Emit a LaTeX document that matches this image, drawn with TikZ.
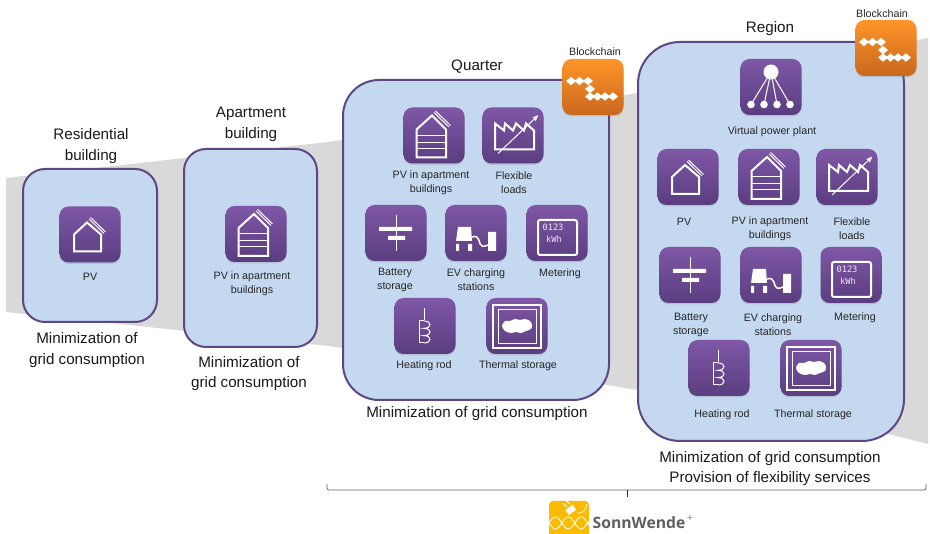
\documentclass[tikz,border=0pt]{standalone}
\usepackage{fontspec}
\setmainfont{Liberation Sans}
\newfontfamily\logofont{Open Sans}
\newfontfamily\meterfont{DejaVu Sans Mono}
\usepackage{tikz}
\usetikzlibrary{arrows,shadows}
\definecolor{wedgegray}{HTML}{D9D9D9}
\definecolor{panelblue}{HTML}{C4D8EF}
\definecolor{panelline}{HTML}{5E4785}
\definecolor{icontop}{HTML}{7F57A6}
\definecolor{iconbottom}{HTML}{5A3D80}
\definecolor{chaintop}{HTML}{FF9429}
\definecolor{chainbottom}{HTML}{C9681E}
\definecolor{logoyellow}{HTML}{FDBB00}
\definecolor{logogray}{HTML}{5F5F5F}
\begin{document}
\begin{tikzpicture}[
      x=1pt,y=-1pt,
      panel/.style={draw=panelline,line width=2pt,fill=panelblue},
      iconbox/.style={minimum width=61pt,minimum height=56pt,inner sep=0pt,rounded corners=9pt,top color=icontop,bottom color=iconbottom,drop shadow={opacity=0.25,shadow xshift=0pt,shadow yshift=-1.5pt}},
      chainbox/.style={minimum width=61pt,minimum height=56pt,inner sep=0pt,rounded corners=9pt,top color=chaintop,bottom color=chainbottom,drop shadow={opacity=0.25,shadow xshift=0pt,shadow yshift=-1.5pt}},
      glyph/.style={draw=white,line width=2pt},
      thinglyph/.style={draw=white,line width=1pt},
      caption/.style={inner sep=0pt,yshift=-1.5pt,align=center,text=black!85,font=\fontsize{10.7}{14}\selectfont},
      title/.style={inner sep=0pt,yshift=-1.5pt,align=center,text=black!90,font=\fontsize{15.2}{20.5}\selectfont},
      brace/.style={draw=black!60,line width=0.8pt},
      pvhouse/.pic={
        \node[iconbox] (-box) {};
        \draw[glyph,line join=miter] (-16,17) -- (-16,0) -- (-3,-12) -- (11,0) -- (11,17) -- cycle;
        \draw[thinglyph] (-1,-15.5) -- (14,-1) (0.5,-17) -- (15.5,-2.5);
      },
      pvapt/.pic={
        \node[iconbox] (-box) {};
        \draw[glyph] (-17.5,22) -- (-17.5,-6) -- (-2,-20) -- (12,-6) -- (12,22) -- cycle;
        \draw[thinglyph] (-17.5,0) -- (12,0) (-17.5,7) -- (12,7) (-17.5,13) -- (12,13);
        \draw[thinglyph] (0,-23) -- (15,-8.5) (1.5,-24.5) -- (16.5,-10);
      },
      flexload/.pic={
        \node[iconbox] (-box) {};
        \draw[glyph] (-18,-12) -- (-9,-5) -- (-8,-12) -- (0,-5) -- (3,-12) -- (11,-5) -- (13,-12) -- (21,-5) -- (21,14) -- (-18,14) -- cycle;
        \draw[thinglyph,->,>=stealth'] (-15,18) -- (25,-20);
      },
      battery/.pic={
        \node[iconbox] (-box) {};
        \draw[thinglyph] (0,-18) -- (0,18);
        \fill[white] (-17,-6) rectangle (16,-2) (-8,3) rectangle (9,7);
      },
      evcharge/.pic={
        \node[iconbox] (-box) {};
        \fill[white] (-20,8) -- (-18,-6) -- (-5,-6) -- (-4,8) -- cycle;
        \fill[white] (-20,11) rectangle (-17,18) (-8,11) rectangle (-4,18) (12,-1) rectangle (20,18);
        \draw[draw=white,line width=1.5pt] (-4,4) .. controls (5,1) and (2,12) .. (6,13) .. controls (8,13.5) and (10,13) .. (12,12);
      },
      meter/.pic={
        \node[iconbox] (-box) {};
        \draw[glyph,rounded corners=2pt] (-19,-13) rectangle (20,22);
        \node[inner sep=0pt,text=white!85!icontop,font=\meterfont\fontsize{8.7}{8.7}\selectfont] (-digits) at (-4,-6) {0123};
        \node[inner sep=0pt,text=white!85!icontop,font=\meterfont\fontsize{8.7}{8.7}\selectfont] (-unit) at (-3,6) {kWh};
      },
      heatrod/.pic={
        \node[iconbox] (-box) {};
        \draw[thinglyph] (-1,-18) -- (-1,-6);
        \draw[thinglyph] (-1,-5) -- (-6,-5) -- (-6,17) -- (-1,17);
        \draw[thinglyph] (-1,-5) .. controls (7,-5) and (7,2.3) .. (-1,2.3) .. controls (7,2.3) and (7,9.6) .. (-1,9.6) .. controls (7,9.6) and (7,17) .. (-1,17);
      },
      thermal/.pic={
        \node[iconbox] (-box) {};
        \draw[glyph] (-24,-21) rectangle (24,22);
        \draw[thinglyph] (-19,-16) rectangle (19,18);
        \fill[white] plot[smooth cycle] coordinates {(-15,0) (-12,-5) (-7,-5) (-2,-7) (3,-6) (8,-7) (13,-5) (15,-1) (14,3) (9,5) (4,7) (-1,6) (-6,7) (-12,5)};
      },
      vpp/.pic={
        \node[iconbox] (-box) {};
        \foreach \leaf in {-20,-7,6,19} {
          \draw[thinglyph] (0,-15) -- (\leaf,17.5);
          \fill[white] (\leaf,17.5) circle (3.8pt);
        }
        \fill[white] (0,-15) circle (7.5pt);
      },
      chain/.pic={
        \node[chainbox] (-box) {};
        \foreach \px/\py in {-22/-6,-13.5/-6,-5/-6,-3/2,-3/9.5,4.5/9.5,12/9.5,20/9.5} {
          \fill[white] (\px-5,\py) -- (\px,\py-4.2) -- (\px+5,\py) -- (\px,\py+4.2) -- cycle;
        }
      }
    ]
    \useasboundingbox (0,0) rectangle (930,534);
    % Draw the gray wedge behind the panels.
    \fill[wedgegray] (6,178) -- (328,142) -- (608,98) -- (637,93) -- (928,38) -- (928,444) -- (892,435) -- (637,390) -- (607,385) -- (328,346) -- (6,312) -- cycle;
    % Draw the panels.
    \draw[panel,rounded corners=22pt] (23,169) rectangle (157,322);
    \draw[panel,rounded corners=22pt] (184,149) rectangle (317,347);
    \draw[panel,rounded corners=36pt] (343,80) rectangle (609,400);
    \draw[panel,rounded corners=42pt] (638,42) rectangle (904,441);
    % Residential building and apartment building.
    \node[title] (restitle) at (91,144.5) {Residential\\building};
    \pic (respv) at (90,234.5) {pvhouse};
    \node[caption] (respvtxt) at (90,275) {PV};
    \node[title] (resgoal) at (87,348.5) {Minimization of\\grid consumption};
    \node[title] (apttitle) at (251,123) {Apartment\\building};
    \pic (aptpv) at (256,234) {pvapt};
    \node[caption] (aptpvtxt) at (252,282) {PV in apartment\\buildings};
    \node[title] (aptgoal) at (249,372) {Minimization of\\grid consumption};
    % Quarter.
    \node[title] (qtitle) at (477,65) {Quarter};
    \pic (qpvapt) at (434,135.5) {pvapt};
    \pic (qflex) at (513,135.5) {flexload};
    \pic (qbatt) at (396,233) {battery};
    \pic (qev) at (476,233) {evcharge};
    \pic (qmeter) at (557,233) {meter};
    \pic (qheat) at (425,326) {heatrod};
    \pic (qtherm) at (517,326) {thermal};
    \node[caption] (qpvapttxt) at (431,181) {PV in apartment\\buildings};
    \node[caption] (qflextxt) at (514,181) {Flexible\\loads};
    \node[caption] (qbatttxt) at (395,278) {Battery\\storage};
    \node[caption] (qevtxt) at (476,278) {EV charging\\stations};
    \node[caption] (qmetertxt) at (560,272) {Metering};
    \node[caption] (qheattxt) at (424,364) {Heating rod};
    \node[caption] (qthermtxt) at (518,364) {Thermal storage};
    \node[title] (qgoal) at (477,412) {Minimization of grid consumption};
    \pic (qchain) at (593,87) {chain};
    \node[caption] (qchaintxt) at (595,50) {Blockchain};
    % Region.
    \node[title] (rtitle) at (770,27) {Region};
    \pic (rvpp) at (771,87) {vpp};
    \pic (rpv) at (688,177) {pvhouse};
    \pic (rpvapt) at (769,177) {pvapt};
    \pic (rflex) at (847,177) {flexload};
    \pic (rbatt) at (690,275) {battery};
    \pic (rev) at (771,275) {evcharge};
    \pic (rmeter) at (851,275) {meter};
    \pic (rheat) at (719,368) {heatrod};
    \pic (rtherm) at (811,368) {thermal};
    \node[caption] (rvpptxt) at (772,130) {Virtual power plant};
    \node[caption] (rpvtxt) at (684,220) {PV};
    \node[caption] (rpvapttxt) at (770,227) {PV in apartment\\buildings};
    \node[caption] (rflextxt) at (852,227) {Flexible\\loads};
    \node[caption] (rbatttxt) at (691,323) {Battery\\storage};
    \node[caption] (revtxt) at (773,323) {EV charging\\stations};
    \node[caption] (rmetertxt) at (855,316) {Metering};
    \node[caption] (rheattxt) at (722,413) {Heating rod};
    \node[caption] (rthermtxt) at (813,413) {Thermal storage};
    \node[title] (rgoal) at (770,467) {Minimization of grid consumption\\Provision of flexibility services};
    \pic (rchain) at (886,48) {chain};
    \node[caption] (rchaintxt) at (882,12) {Blockchain};
    % Draw the brace.
    \coordinate (braceleft) at (327,484);
    \coordinate (braceright) at (926,484);
    \coordinate (bracetip) at (627,497);
    \draw[brace,rounded corners=2pt] (braceleft) |- (bracetip |- 0,490) -| (braceright);
    \draw[line width=1pt,black!85] (bracetip |- 0,490) -- (bracetip);
    % Draw the logo.
    \begin{scope}
      \clip (549,501) rectangle (590,534);
      \fill[logoyellow,rounded corners=4pt] (549,501) rectangle (589,545);
      \draw[white,line width=0.9pt] plot[domain=549:589,samples=50] (\x,{523+6*sin(14*(\x-549))});
      \draw[white,line width=0.9pt] plot[domain=549:589,samples=50] (\x,{523-6*sin(14*(\x-549))});
      \draw[white,line width=0.8pt] (577,513) .. controls (583,514) and (586,510) .. (587,504);
      \fill[white,rotate around={35:(572,509)}] (566,506) rectangle (575,512);
      \draw[white,line width=0.9pt] (570,504) -- (566,500.5) (567,507) -- (563,503.5);
    \end{scope}
    \node[anchor=base west,inner sep=0pt,text=logogray,font=\logofont\bfseries\fontsize{15.7}{15.7}\selectfont] (logotxt) at (592.5,529) {SonnWende};
    \node[anchor=center,inner sep=0pt,text=logogray!70,font=\fontsize{11}{11}\selectfont] (logoplus) at (690,518) {+};
\end{tikzpicture}
\end{document}
